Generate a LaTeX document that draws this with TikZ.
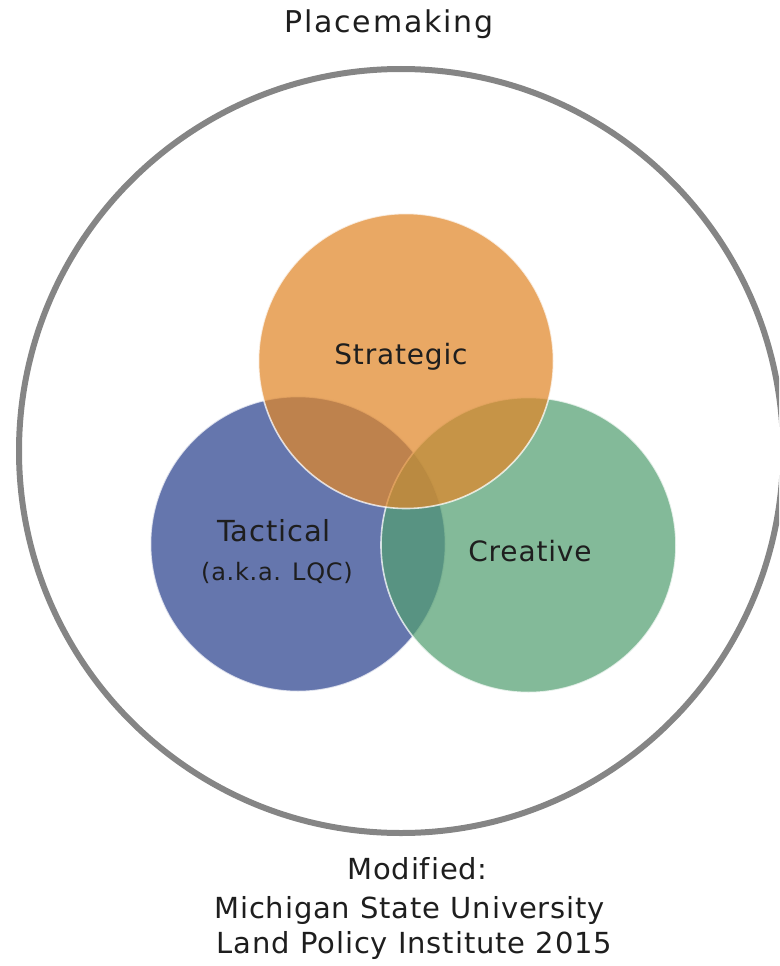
\documentclass[tikz,border=0pt]{standalone}
\usepackage{fontspec}
\setmainfont{DejaVu Sans}[LetterSpace=3, Ligatures=NoCommon]
\newfontfamily\spacedfont{DejaVu Sans}[LetterSpace=6, Ligatures=NoCommon]
\definecolor{ringgray}{HTML}{858585}
\definecolor{stratorange}{HTML}{E08628}
\definecolor{tactblue}{HTML}{2A418E}
\definecolor{creatgreen}{HTML}{539F71}
\definecolor{inkdark}{HTML}{1E1E1E}
\begin{document}
\begin{tikzpicture}[x=1pt,y=-1pt,
  ring/.style={circle, draw=ringgray, line width=6pt, minimum size=764pt, inner sep=0pt},
  venn/.style={circle, minimum size=295pt, inner sep=0pt, fill=#1, fill opacity=0.72,
               draw=white, draw opacity=0.75, line width=1.6pt},
  label/.style={anchor=base, inner sep=0pt, text=inkdark,
                font=\fontsize{28}{34}\selectfont},
  creditlabel/.style={anchor=base, inner sep=0pt, text=inkdark,
                font=\fontsize{29}{35}\selectfont},
  smalllabel/.style={anchor=base, inner sep=0pt, text=inkdark,
                font=\fontsize{24}{29}\selectfont}]
  \useasboundingbox (0,0) rectangle (779,966);
  \clip (0,0) rectangle (779,966);

  % outer placemaking ring
  \node[ring] (place) at (401,451) {};

  % the three overlapping circles (drawn back to front)
  \node[venn=tactblue]    (tact)  at (298,544) {};
  \node[venn=creatgreen]  (creat) at (528.5,545) {};
  \node[venn=stratorange] (strat) at (406,361) {};

  % labels
  \node[label, font=\spacedfont\fontsize{30}{36}\selectfont] (tplace) at (389,33) {Placemaking};
  \node[label] (tstrat) at (401,364) {Strategic};
  \node[label, font=\fontsize{29}{35}\selectfont] (ttact) at (274,541) {Tactical};
  \node[smalllabel] (taka) at (277,580) {(a.k.a. LQC)};
  \node[label] (tcreat) at (530,561) {Creative};

  % credit lines
  \node[creditlabel] (mod) at (417.5,879) {Modified:};
  \node[creditlabel] (msu) at (409.5,918) {Michigan State University};
  \node[creditlabel] (lpi) at (414.5,953) {Land Policy Institute 2015};
\end{tikzpicture}
\end{document}
